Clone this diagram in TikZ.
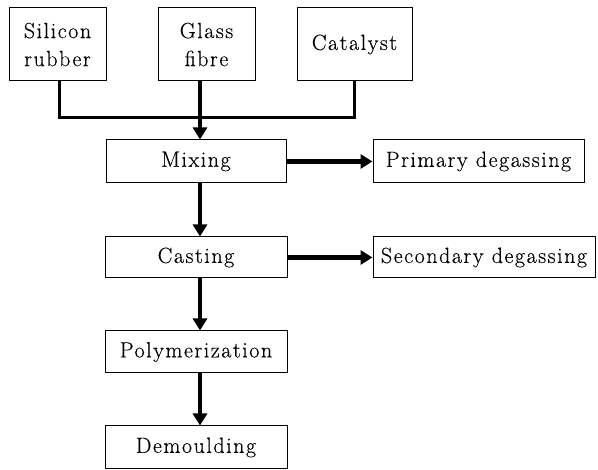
\documentclass[tikz,border=0pt]{standalone}
\usepackage{fontspec}
\setmainfont{Latin Modern Roman}
\usetikzlibrary{arrows.meta}
\begin{document}
\begin{tikzpicture}[x=1pt,y=-1pt,
  box/.style={draw,line width=1pt,inner sep=0pt,align=center,font=\fontsize{22}{28}\selectfont\addfontfeatures{LetterSpace=7,FakeBold=0.3}},
  flow/.style={line width=4.5pt,-{Triangle[length=12pt,width=14pt]}},
  link/.style={line width=3pt}]
\useasboundingbox (0,0) rectangle (598,470);
\node[box,minimum width=97pt,minimum height=73pt] (sil) at (57.5,44.5) {Silicon\\rubber};
\node[box,minimum width=97pt,minimum height=73pt] (gla) at (206.5,44.5) {Glass\\fibre};
\node[box,minimum width=115pt,minimum height=73pt] (cat) at (354.5,44.5) {Catalyst};
\node[box,minimum width=180pt,minimum height=43pt] (mix) at (196,161.5) {Mixing};
\node[box,minimum width=211pt,minimum height=43pt] (pri) at (478.5,161.5) {Primary degassing};
\node[box,minimum width=182pt,minimum height=41pt] (cas) at (196,257.5) {Casting};
\node[box,minimum width=222pt,minimum height=41pt] (sec) at (484,257.5) {Secondary degassing};
\node[box,minimum width=182pt,minimum height=42pt] (pol) at (196,352) {Polymerization};
\node[box,minimum width=182pt,minimum height=43pt] (dem) at (196,447.5) {Demoulding};
\coordinate (ax) at (200,0);
\coordinate (hy) at (0,117.5);
\draw[link] (sil.south -| 59,0) |- (hy -| cat.south) -- (cat.south);
\draw[flow] (gla.south -| ax) -- (mix.north -| ax);
\draw[flow] (mix.south -| ax) -- (cas.north -| ax);
\draw[flow] (cas.south -| ax) -- (pol.north -| ax);
\draw[flow] (pol.south -| ax) -- (dem.north -| ax);
\draw[flow] (mix.east) -- (pri.west);
\draw[flow] (cas.east) -- (sec.west);
\end{tikzpicture}
\end{document}
